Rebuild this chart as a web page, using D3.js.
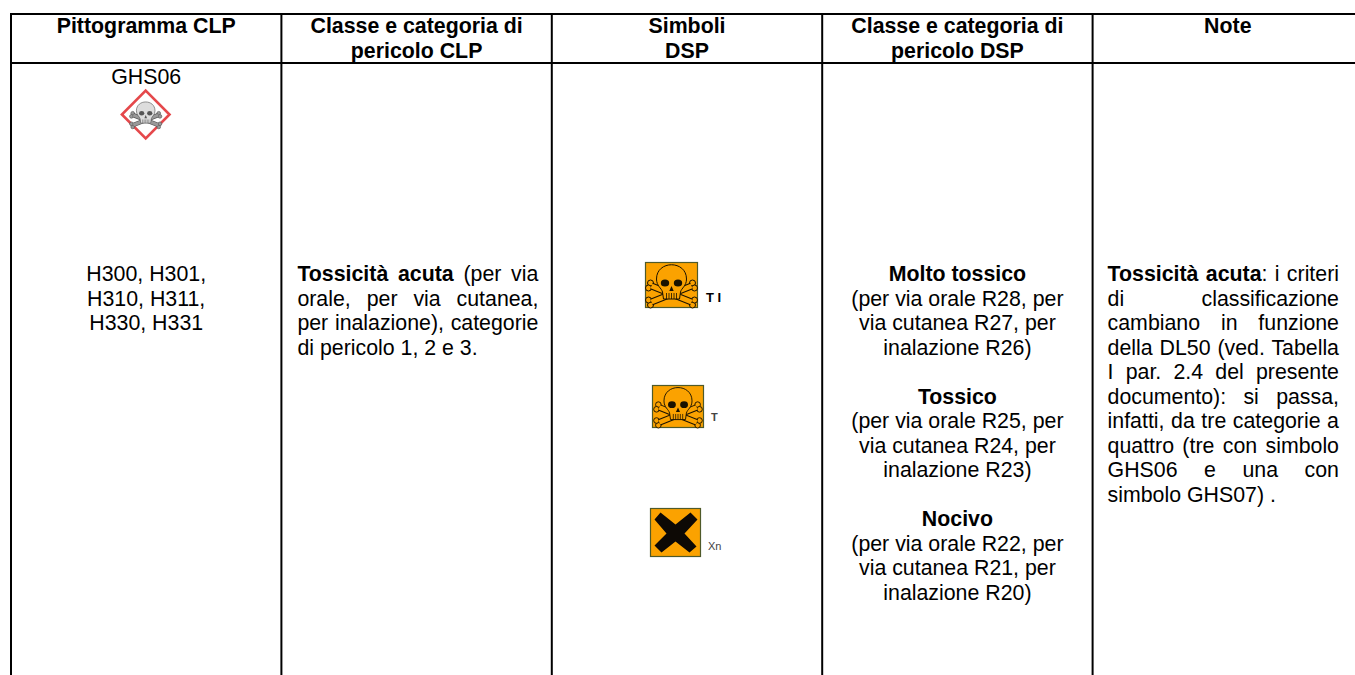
<!DOCTYPE html>
<html><head><meta charset="utf-8">
<script src="https://cdn.jsdelivr.net/npm/d3@7/dist/d3.min.js"></script>
<style>html,body{margin:0;background:#fff}svg{display:block}text{font-family:"Liberation Sans",Arial,sans-serif;fill:#000;font-size:21.33px}</style>
</head><body><svg id="c" width="1355" height="675"></svg>
<script>
const columns = ["Pittogramma CLP","Classe e categoria di pericolo CLP","Simboli DSP","Classe e categoria di pericolo DSP","Note"];
const headerLines = [["Pittogramma CLP"],["Classe e categoria di","pericolo CLP"],["Simboli","DSP"],["Classe e categoria di","pericolo DSP"],["Note"]];
const pictogramCode = "GHS06";
const hazardCodes = ["H300, H301,","H310, H311,","H330, H331"];
const clpLines = ["orale, per via cutanea,","per inalazione), categorie","di pericolo 1, 2 e 3."];
const dspGroups = [
 {title:"Molto tossico",lines:["(per via orale R28, per","via cutanea R27, per","inalazione R26)"]},
 {title:"Tossico",lines:["(per via orale R25, per","via cutanea R24, per","inalazione R23)"]},
 {title:"Nocivo",lines:["(per via orale R22, per","via cutanea R21, per","inalazione R20)"]}];
const noteLines = ["Tossicità acuta: i criteri","di classificazione","cambiano in funzione","della DL50 (ved. Tabella","I par. 2.4 del presente","documento): si passa,","infatti, da tre categorie a","quattro (tre con simbolo","GHS06 e una con","simbolo GHS07) ."];
const symbols = [{kind:"skull",code:"T I"},{kind:"skull",code:"T"},{kind:"cross",code:"Xn"}];

const svg = d3.select("#c");
const W=1355,H=675,LH=24.5,BASE=281;
const x = d3.scaleBand().domain(d3.range(columns.length)).range([11,1363]);
const left=i=>x(i), mid=i=>x(i)+x.bandwidth()/2;
const rowY = d3.scaleLinear().domain([0,1]).range([14,63]);
svg.append("g").selectAll("line").data(d3.range(columns.length)).join("line")
 .attr("x1",left).attr("x2",left).attr("y1",rowY(0)-1).attr("y2",H).attr("stroke","#000").attr("stroke-width",2);
svg.append("g").selectAll("line").data([0,1]).join("line")
 .attr("x1",10).attr("x2",W).attr("y1",rowY).attr("y2",rowY).attr("stroke","#000").attr("stroke-width",2);

function t(s,xx,y,o={}){return svg.append("text").attr("x",xx).attr("y",y).attr("text-anchor",o.a||"middle").style("font-weight",o.b?"bold":null).text(s);}
function justify(node,w){
 const len=node.getComputedTextLength();
 const gaps=(node.textContent.match(/ /g)||[]).length;
 if(gaps) d3.select(node).attr("word-spacing",(w-len)/gaps);
}
headerLines.forEach((ls,i)=>ls.forEach((s,j)=>t(s,mid(i),33+j*LH,{b:1})));
t(pictogramCode,mid(0),84);
hazardCodes.forEach((s,j)=>t(s,mid(0),BASE+j*LH));
const g=svg.append("g").attr("transform",`translate(${mid(0)-0.5},114.5)`);
g.append("path").attr("d","M0,-23.8 L23.8,0 L0,23.8 L-23.8,0Z").attr("fill","#fff").attr("stroke","#e5484b").attr("stroke-width",2.6);
skull(g,0.62,"#ddd","#555","#999");

const cx=left(1)+16, cw=241;
const tb=svg.append("text").attr("x",cx).attr("y",BASE);
tb.append("tspan").style("font-weight","bold").text("Tossicità acuta");tb.append("tspan").text(" (per via");
justify(tb.node(),cw);
clpLines.forEach((s,j)=>{const n=t(s,cx,BASE+(j+1)*LH,{a:"start"});if(j<2)justify(n.node(),cw);});

dspGroups.forEach((d,i)=>{const y0=BASE+i*LH*5;
 t(d.title,mid(3),y0,{b:1});d.lines.forEach((s,j)=>t(s,mid(3),y0+(j+1)*LH));});

const nx=left(4)+15, nw=1339-nx;
noteLines.forEach((s,j)=>{const y=BASE+j*LH;
 const n=svg.append("text").attr("x",nx).attr("y",y);
 if(j==0){n.append("tspan").style("font-weight","bold").text("Tossicità acuta");n.append("tspan").text(": i criteri");}
 else n.text(s);
 if(j<noteLines.length-1)justify(n.node(),nw);});

const symBox=[[645,262,53,46],[652,385,52,43],[650,508,51,49]];
const codePos=[[706,302,13,"#000","bold"],[711,421,11,"#444","bold"],[708,550,11,"#444",null]];
symbols.forEach((d,i)=>{
 const [bx,by,s,h]=symBox[i];
 const gg=svg.append("g").attr("transform",`translate(${bx},${by})`);
 gg.append("rect").attr("x",0.5).attr("y",0.5).attr("width",s-1).attr("height",h-1).attr("fill","#fba200").attr("stroke","#4f5a2a").attr("stroke-width",1.2);
 const c=gg.append("g").attr("transform",`translate(${s/2},${h/2})`);
 if(d.kind=="skull")skull(c,h/46,"#fba200","#1a1200","#fba200");
 else c.append("path").attr("d","M-15,-20 L0,-8 L15,-20 L22,-13 L9,1 L21,14 L14,20 L0,9 L-14,20 L-21,13 L-9,1 L-21,-13Z").attr("fill","#0d0905");
 const [tx,ty,fs,col,w]=codePos[i];
 svg.append("text").attr("x",tx).attr("y",ty).style("fill",col).style("font-size",fs+"px").style("font-weight",w).text(d.code);
});
function skull(p,k,fill,line,boneFill){
 const g=p.append("g").attr("transform",`scale(${k})`);
 const bones=["M-20,1 L20,17","M20,1 L-20,17"];
 const knobs=[[-21,-2],[-23,3],[21,-2],[23,3],[-21,20],[-23,15],[21,20],[23,15]];
 knobs.forEach(([a,b])=>g.append("circle").attr("cx",a).attr("cy",b).attr("r",3).attr("fill",boneFill).attr("stroke",line).attr("stroke-width",1));
 bones.forEach(d=>g.append("path").attr("d",d).attr("stroke",line).attr("stroke-width",7).attr("fill","none"));
 bones.forEach(d=>g.append("path").attr("d",d).attr("stroke",boneFill).attr("stroke-width",5).attr("fill","none"));
 g.append("path").attr("d","M-15,-6 C-15,-25 15,-25 15,-6 C15,1 10,3 9,7 L8,14 L-8,14 L-9,7 C-10,3 -15,1 -15,-6Z").attr("fill",fill).attr("stroke",line).attr("stroke-width",1);
 [-6.5,6.5].forEach(c=>g.append("ellipse").attr("cx",c).attr("cy",-2).attr("rx",4.2).attr("ry",3.6).attr("fill",line));
 g.append("path").attr("d","M0,1 L2.2,6 L-2.2,6Z").attr("fill",line);
 [-5,-2.5,0,2.5,5].forEach(c=>g.append("line").attr("x1",c).attr("x2",c).attr("y1",8).attr("y2",14).attr("stroke",line).attr("stroke-width",0.8));
}
</script></body></html>
